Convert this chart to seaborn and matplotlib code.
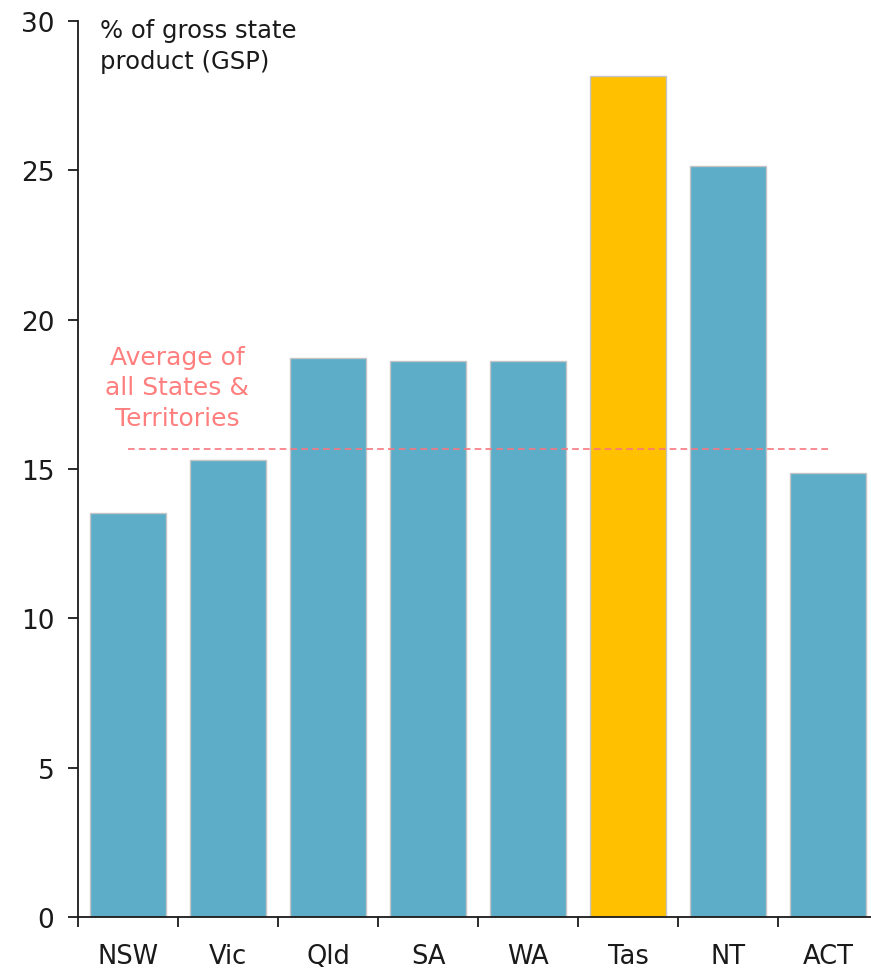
import matplotlib
matplotlib.use("Agg")
import matplotlib.pyplot as plt
import seaborn as sns
import numpy as np

states = ["NSW", "Vic", "Qld", "SA", "WA", "Tas", "NT", "ACT"]
share_gsp = [13.53, 15.30, 18.73, 18.60, 18.60, 28.16, 25.15, 14.85]
average_all = 15.67
bar_colors = ["#5DADC9", "#5DADC9", "#5DADC9", "#5DADC9", "#5DADC9", "#FFC000", "#5DADC9", "#5DADC9"]
y_ticks = [0, 5, 10, 15, 20, 25, 30]

sns.set_style("white")
plt.rcParams["font.family"] = ["DejaVu Sans"]

fig = plt.figure(figsize=(8.71, 9.70), dpi=100)
ax = fig.add_axes([78 / 871, 52 / 970, 1 - 78 / 871, 896 / 970])

sns.barplot(x=states, y=share_gsp, hue=states, palette=bar_colors, legend=False,
            width=0.76, edgecolor="#C4C4C4", linewidth=1.0, saturation=1, ax=ax)

# Average line spanning from first to last bar centre
ax.plot([0, len(states) - 1], [average_all, average_all], color="#F7777F",
        linestyle=(0, (4, 2.5)), linewidth=1.2)
ax.text(0.49, 17.74, "Average of\nall States &\nTerritories", color="#FF7F7F",
        fontsize=18, ha="center", va="center", linespacing=1.35)

ax.text(-0.28, 30.1, "% of gross state\nproduct (GSP)", color="#1a1a1a",
        fontsize=17.5, ha="left", va="top", linespacing=1.35)

ax.set_xlim(-0.5, 7.43)
ax.set_ylim(0, 30)
ax.set_yticks(y_ticks)
ax.set_yticklabels([str(t) for t in y_ticks], fontsize=19, color="#1a1a1a")

# Category labels centred, tick marks between categories
ax.set_xticks(range(len(states)))
ax.set_xticklabels(states, fontsize=18.5, color="#1a1a1a")
ax.set_xticks(np.arange(-0.5, len(states) - 1), minor=True)
ax.tick_params(axis="x", which="major", bottom=True, length=0, pad=19)
ax.tick_params(axis="x", which="minor", bottom=True, length=7, width=1.3,
               direction="out", color="#1a1a1a")
ax.tick_params(axis="y", left=True, length=7, width=1.3, direction="out",
               color="#1a1a1a", pad=10)

for side in ["top", "right"]:
    ax.spines[side].set_visible(False)
for side in ["left", "bottom"]:
    ax.spines[side].set_color("#1a1a1a")
    ax.spines[side].set_linewidth(1.3)

ax.set_xlabel("")
ax.set_ylabel("")
fig.savefig("out.png", dpi=100)
